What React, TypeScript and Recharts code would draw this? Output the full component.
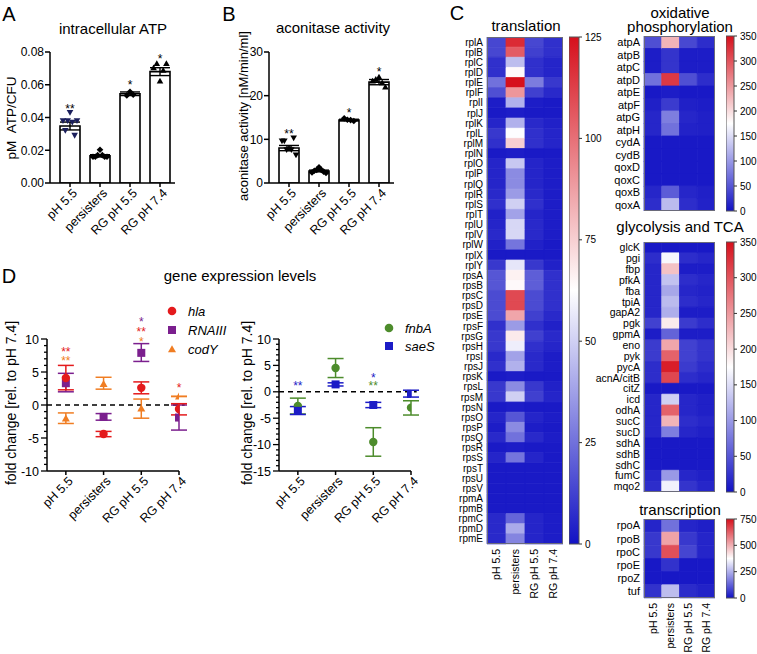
import React from 'react'
import {
  ComposedChart,
  BarChart,
  ScatterChart,
  Bar,
  Scatter,
  XAxis,
  YAxis,
  ErrorBar,
  Cell,
  ReferenceDot,
  ReferenceLine,
} from 'recharts'

const FONT = '"Liberation Sans", Arial, Helvetica, sans-serif'

const groups = ['pH 5.5', 'persisters', 'RG pH 5.5', 'RG pH 7.4']

// A - intracellular ATP (pM ATP/CFU)
const atpMean = [0.0348, 0.0166, 0.0545, 0.068]
const atpSem = [0.0024, 0.0007, 0.0011, 0.0024]
const atpPh55 = [0.038, 0.032, 0.038, 0.043, 0.037, 0.029, 0.038]
const atpPersisters = [0.016, 0.016, 0.017, 0.0203, 0.017, 0.016, 0.016]
const atpRg55 = [0.0535, 0.0557, 0.0539]
const atpRg74 = [0.0705, 0.073, 0.0624, 0.069, 0.073]
const atpStars = ['**', '', '*', '*']
const atpStarY = [0.047, 0, 0.0612, 0.0772]
const atpTicks = [0, 0.02, 0.04, 0.06, 0.08]

// B - aconitase activity (nM/min/ml)
const acoMean = [8.0, 2.75, 14.4, 23.1]
const acoSem = [0.6, 0.2, 0.2, 0.6]
const acoPh55 = [9.6, 9.6, 7.6, 7.8, 7.6, 10.3, 6.4]
const acoPersisters = [2.4, 2.8, 3.0, 3.6, 3.0, 2.6, 2.3]
const acoRg55 = [14.8, 14.5, 14.4, 14.2]
const acoRg74 = [23.4, 23.8, 24.3, 23.0, 22.0]
const acoStars = ['**', '', '*', '*']
const acoStarY = [11.9, 0, 16.7, 26.1]
const acoTicks = [0, 10, 20, 30]

// C - heatmaps
const translationGenes = [
  'rplA', 'rplB', 'rplC', 'rplD', 'rplE', 'rplF', 'rplI', 'rplJ', 'rplK', 'rplL', 'rplM', 'rplN', 'rplO',
  'rplP', 'rplQ', 'rplR', 'rplS', 'rplT', 'rplU', 'rplV', 'rplW', 'rplX', 'rplY', 'rpsA', 'rpsB', 'rpsC',
  'rpsD', 'rpsE', 'rpsF', 'rpsG', 'rpsH', 'rpsI', 'rpsJ', 'rpsK', 'rpsL', 'rpsM', 'rpsN', 'rpsO', 'rpsP',
  'rpsQ', 'rpsR', 'rpsS', 'rpsT', 'rpsU', 'rpsV', 'rpmA', 'rpmB', 'rpmC', 'rpmD', 'rpmE',
]
const translationVals = [
  [14, 118, 14, 8], [14, 105, 12, 8], [8, 45, 8, 5], [8, 64, 8, 5], [25, 125, 28, 10],
  [16, 90, 12, 6], [3, 42, 3, 2], [2, 3, 2, 2], [5, 42, 6, 4], [10, 62, 8, 5],
  [8, 75, 8, 5], [2, 3, 2, 2], [5, 48, 5, 3], [5, 32, 5, 3], [5, 32, 5, 3],
  [6, 36, 6, 3], [8, 50, 8, 3], [4, 38, 5, 3], [5, 52, 6, 3], [6, 52, 6, 3],
  [4, 26, 4, 2], [2, 2, 2, 2], [10, 56, 10, 4], [18, 66, 20, 8], [18, 64, 20, 8],
  [15, 110, 15, 8], [15, 110, 15, 8], [15, 86, 12, 6], [8, 36, 8, 4], [10, 68, 12, 6],
  [10, 58, 8, 5], [6, 38, 6, 3], [8, 42, 6, 3], [2, 3, 2, 2], [10, 32, 10, 4],
  [10, 50, 12, 5], [2, 3, 2, 2], [5, 18, 5, 3], [3, 32, 3, 2], [6, 25, 6, 3],
  [2, 3, 2, 2], [5, 26, 5, 2], [2, 2, 2, 2], [2, 2, 2, 2], [2, 2, 2, 2],
  [2, 2, 2, 2], [2, 2, 2, 2], [6, 22, 5, 3], [6, 40, 5, 3], [6, 30, 5, 3],
]
const translationTicks = [0, 25, 50, 75, 100, 125]

const oxphosGenes = ['atpA', 'atpB', 'atpC', 'atpD', 'atpE', 'atpF', 'atpG', 'atpH', 'cydA', 'cydB', 'qoxD', 'qoxC', 'qoxB', 'qoxA']
const oxphosVals = [
  [45, 230, 40, 20], [8, 25, 8, 8], [8, 25, 8, 8], [70, 320, 45, 20], [5, 8, 5, 5],
  [10, 30, 10, 8], [15, 80, 15, 10], [15, 70, 12, 10], [5, 5, 5, 5], [5, 5, 5, 5],
  [5, 5, 5, 5], [5, 5, 5, 5], [15, 55, 15, 10], [20, 125, 20, 12],
]
const tcaGenes = [
  'glcK', 'pgi', 'fbp', 'pfkA', 'fba', 'tpiA', 'gapA2', 'pgk', 'gpmA', 'eno', 'pyk', 'pycA', 'acnA/citB',
  'citZ', 'icd', 'odhA', 'sucC', 'sucD', 'sdhA', 'sdhB', 'sdhC', 'fumC', 'mqo2',
]
const tcaVals = [
  [5, 5, 5, 5], [20, 170, 20, 15], [15, 220, 8, 8], [15, 130, 20, 15], [15, 110, 15, 12],
  [15, 125, 20, 15], [15, 115, 8, 8], [35, 190, 30, 20], [8, 60, 8, 8], [30, 240, 35, 25],
  [30, 290, 35, 25], [20, 340, 30, 20], [20, 310, 20, 15], [5, 5, 5, 5], [15, 140, 15, 10],
  [15, 290, 15, 10], [15, 230, 20, 15], [15, 80, 15, 10], [5, 5, 5, 5], [5, 5, 5, 5],
  [5, 5, 5, 5], [15, 100, 15, 10], [20, 165, 25, 15],
]
const metabTicks = [0, 50, 100, 150, 200, 250, 300, 350]
const transcriptionGenes = ['rpoA', 'rpoB', 'rpoC', 'rpoE', 'rpoZ', 'tuf']
const transcriptionVals = [
  [30, 150, 30, 20], [60, 520, 60, 30], [60, 650, 80, 30], [10, 50, 10, 10], [10, 10, 10, 10], [50, 270, 40, 25],
]
const transcriptionTicks = [0, 250, 500, 750]

// D - gene expression levels, fold change rel. to pH 7.4
const hlaMean = [4.1, -4.4, 2.6, -0.6]
const hlaLow = [2.3, -4.8, 1.7, -1.5]
const hlaHigh = [6.0, -4.0, 3.5, 0.2]
const rnaMean = [3.3, -1.8, 7.9, -1.9]
const rnaLow = [2.0, -2.3, 6.6, -3.8]
const rnaHigh = [4.8, -1.3, 9.3, 0.0]
const codMean = [-2.0, 3.2, -0.5, 1.3]
const codLow = [-2.8, 2.4, -2.0, 1.3]
const codHigh = [-1.2, 4.2, 0.9, 1.3]
const leftStars = [
  { x: 0, y: 8.5, label: '**', gene: 'hla' },
  { x: 0, y: 7.1, label: '**', gene: 'codY' },
  { x: 2, y: 13, label: '*', gene: 'RNAIII' },
  { x: 2, y: 11.5, label: '**', gene: 'hla' },
  { x: 2, y: 10, label: '*', gene: 'codY' },
  { x: 3, y: 3.0, label: '*', gene: 'hla' },
]
const fnbMean = [-2.7, 4.5, -9.5, -3.0]
const fnbLow = [-4.2, 2.7, -12.2, -4.4]
const fnbHigh = [-1.2, 6.3, -6.8, -1.7]
const saeMean = [-3.6, 1.4, -2.5, -0.4]
const saeLow = [-4.3, 1.1, -3.0, -1.0]
const saeHigh = [-2.8, 1.7, -2.0, 0.3]
const rightStars = [
  { x: 0, y: 1.5, label: '**', gene: 'saeS' },
  { x: 2, y: 3.2, label: '*', gene: 'saeS' },
  { x: 2, y: 1.5, label: '**', gene: 'fnbA' },
]

const geneColor: Record<string, string> = {
  hla: '#e41a1c',
  RNAIII: '#7b1f8e',
  codY: '#f07d22',
  fnbA: '#4d8c2c',
  saeS: '#1c1cc6',
}

const BLUE = [18, 18, 196]
const RED = [214, 16, 28]
function heat(t: number) {
  const c = Math.max(0, Math.min(1, t))
  const mix = (a: number[], b: number[], f: number) =>
    `rgb(${a.map((v, i) => Math.round(v + (b[i] - v) * f)).join(',')})`
  return c < 0.5 ? mix(BLUE, [255, 255, 255], c / 0.5) : mix([255, 255, 255], RED, (c - 0.5) / 0.5)
}

function marker(kind: string, cx: number, cy: number, s: number, fill: string) {
  if (kind === 'down')
    return <polygon points={`${cx - s},${cy - s * 0.8} ${cx + s},${cy - s * 0.8} ${cx},${cy + s * 0.95}`} fill={fill} />
  if (kind === 'up')
    return <polygon points={`${cx - s},${cy + s * 0.8} ${cx + s},${cy + s * 0.8} ${cx},${cy - s * 0.95}`} fill={fill} />
  if (kind === 'diamond')
    return <polygon points={`${cx},${cy - s} ${cx + s},${cy} ${cx},${cy + s} ${cx - s},${cy}`} fill={fill} />
  if (kind === 'square') return <rect x={cx - s} y={cy - s} width={s * 2} height={s * 2} fill={fill} />
  return <circle cx={cx} cy={cy} r={s} fill={fill} />
}

const Txt = ({ x, y, size = 15, children, rot = false, italic = false, anchor = 'center' }: any) => (
  <div
    style={{
      position: 'absolute',
      left: x,
      top: y,
      transform: `translate(${anchor === 'left' ? '0' : '-50%'},-50%)${rot ? ' rotate(-90deg)' : ''}`,
      whiteSpace: 'nowrap',
      fontSize: size,
      fontStyle: italic ? 'italic' : 'normal',
      lineHeight: 1,
      color: '#000',
    }}
  >
    {children}
  </div>
)

const SlantTick = ({ x, y, payload, names }: any) => (
  <text
    transform={`translate(${x + 3},${y}) rotate(-45)`}
    textAnchor="end"
    dy="0.55em"
    fontSize={12.5}
    fontFamily={FONT}
    fill="#000"
  >
    {names ? names[payload.value] : payload.value}
  </text>
)

const starShape = (label: string, color: string) => (p: any) => (
  <text x={p.cx} y={p.cy} dy="0.55em" textAnchor="middle" fontSize={12} fontFamily={FONT} fill={color}>
    {label}
  </text>
)

function BarPanel({ left, means, sems, points, stars, starY, ticks, fmt, kinds, colors }: any) {
  const data = groups.map((g, i) => ({ name: g, mean: means[i], sem: sems[i] }))
  const pts = groups.flatMap((g, i) =>
    points[i].map((y: number, j: number) => ({ name: g, y, j, n: points[i].length, grp: i })),
  )
  return (
    <div style={{ position: 'absolute', left, top: 0 }}>
      <ComposedChart width={180} height={240} data={data} margin={{ top: 52, right: 5, bottom: 7, left: 10 }}>
        <XAxis
          dataKey="name"
          allowDuplicatedCategory={false}
          padding={{ left: 5, right: 0 }}
          interval={0}
          height={50}
          stroke="#000"
          strokeWidth={1.5}
          tickSize={4}
          tick={<SlantTick />}
        />
        <YAxis
          domain={[ticks[0], ticks[ticks.length - 1]]}
          ticks={ticks}
          tickFormatter={fmt}
          allowDataOverflow
          width={40}
          stroke="#000"
          strokeWidth={1.5}
          tickSize={5}
          tickMargin={1}
          tick={{ fill: '#000', fontSize: 12, fontFamily: FONT }}
        />
        <Bar dataKey="mean" fill="#fff" stroke="#000" strokeWidth={1.6} barSize={20} isAnimationActive={false}>
          <ErrorBar dataKey="sem" width={10} stroke="#000" strokeWidth={1.4} />
        </Bar>
        <Scatter
          data={pts}
          dataKey="y"
          isAnimationActive={false}
          shape={(p: any) => {
            const { j, n, grp } = p.payload
            const step = n > 1 ? Math.min(3.2, 14 / (n - 1)) : 0
            return marker(kinds[grp], p.cx + (j - (n - 1) / 2) * step, p.cy, 3.3, colors[grp])
          }}
        />
        {groups.map((g, i) =>
          stars[i] ? (
            <ReferenceDot key={g} x={g} y={starY[i]} ifOverflow="visible" shape={starShape(stars[i], '#000')} />
          ) : null,
        )}
      </ComposedChart>
    </div>
  )
}

const ColTick = ({ x, y, payload }: any) => (
  <text
    transform={`translate(${x},${y}) rotate(-90)`}
    textAnchor="end"
    dy="0.36em"
    fontSize={10.5}
    fontFamily={FONT}
    fill="#000"
  >
    {groups[Math.floor(payload.value)]}
  </text>
)

function Heatmap({ x, y, w, h, labelW, genes, vals, max, cols, fontSize }: any) {
  const rows = genes.map((g: string, i: number) => ({ gene: g, v: vals[i] }))
  return (
    <>
      <div style={{ position: 'absolute', left: x - labelW, top: y }}>
        <BarChart
          width={labelW + w}
          height={h + (cols ? 56 : 0)}
          data={rows}
          layout="vertical"
          barCategoryGap={0}
          margin={{ top: 0, right: 0, bottom: 0, left: 0 }}
        >
          <XAxis
            type="number"
            domain={[0, 4]}
            ticks={[0.5, 1.5, 2.5, 3.5]}
            interval={0}
            hide={!cols}
            height={56}
            axisLine={false}
            tickLine={false}
            tickSize={0}
            tickMargin={5}
            tick={<ColTick />}
          />
          <YAxis
            type="category"
            dataKey="gene"
            width={labelW}
            interval={0}
            axisLine={false}
            tickLine={false}
            tickSize={0}
            tickMargin={4}
            tick={{ fill: '#000', fontSize, fontFamily: FONT }}
          />
          {[0, 1, 2, 3].map((k) => (
            <Bar key={k} dataKey={() => 1} stackId="h" isAnimationActive={false}>
              {rows.map((r: any) => (
                <Cell key={r.gene} fill={heat(r.v[k] / max)} stroke={heat(r.v[k] / max)} strokeWidth={0.8} />
              ))}
            </Bar>
          ))}
        </BarChart>
      </div>
      <div
        style={{
          position: 'absolute',
          left: x,
          top: y,
          width: w,
          height: h,
          border: '1px solid #6a6a7a',
          boxSizing: 'border-box',
        }}
      />
    </>
  )
}

function ColorBar({ x, y, w, h, max, ticks, id }: any) {
  return (
    <div style={{ position: 'absolute', left: x, top: y - 6 }}>
      <BarChart
        width={w + 30}
        height={h + 12}
        data={[{ name: 'scale', v: max }]}
        barCategoryGap={0}
        margin={{ top: 6, right: 0, bottom: 6, left: 0 }}
      >
        <defs>
          <linearGradient id={id} x1="0" y1="1" x2="0" y2="0">
            <stop offset="0" stopColor={heat(0)} />
            <stop offset="0.5" stopColor="#ffffff" />
            <stop offset="1" stopColor={heat(1)} />
          </linearGradient>
        </defs>
        <XAxis dataKey="name" hide />
        <YAxis
          orientation="right"
          domain={[0, max]}
          ticks={ticks}
          interval={0}
          width={30}
          axisLine={false}
          tickSize={3}
          tickMargin={3}
          tickLine={{ stroke: '#333' }}
          tick={{ fill: '#000', fontSize: 10, fontFamily: FONT }}
        />
        <Bar dataKey="v" fill={`url(#${id})`} stroke="#555" strokeWidth={1} isAnimationActive={false} />
      </BarChart>
    </div>
  )
}

const MinorTick = ({ x, y, payload }: any) => {
  const major = payload.value % 5 === 0
  return (
    <g>
      <line x1={x} x2={x - (major ? 6 : 3)} y1={y} y2={y} stroke="#000" strokeWidth={1.3} />
      {major && (
        <text x={x - 8} y={y} dy="0.36em" textAnchor="end" fontSize={12.5} fontFamily={FONT} fill="#000">
          {payload.value}
        </text>
      )}
    </g>
  )
}

function GenePanel({ left, series, domain, stars }: any) {
  const yt: number[] = []
  for (let v = domain[0]; v <= domain[1]; v++) yt.push(v)
  return (
    <div style={{ position: 'absolute', left, top: 300 }}>
      <ScatterChart width={200} height={240} margin={{ top: 39, right: 21, bottom: 9, left: 0 }}>
        <XAxis
          type="number"
          dataKey="x"
          domain={[-0.5, 3]}
          ticks={[0, 1, 2, 3]}
          interval={0}
          allowDataOverflow
          height={60}
          stroke="#000"
          strokeWidth={1.5}
          tickSize={4}
          tick={<SlantTick names={groups} />}
        />
        <YAxis
          type="number"
          domain={domain}
          ticks={yt}
          interval={0}
          allowDataOverflow
          width={47}
          stroke="#000"
          strokeWidth={1.5}
          tickLine={false}
          tickSize={0}
          tickMargin={0}
          tick={<MinorTick />}
        />
        <ReferenceLine
          segment={[{ x: -0.5, y: 0 }, { x: 3.15, y: 0 }]}
          ifOverflow="visible"
          stroke="#000"
          strokeWidth={1.6}
          strokeDasharray="5 4"
        />
        {series.map((s: any) => (
          <Scatter
            key={s.name}
            data={s.mean.map((m: number, i: number) => ({ x: i, y: m, err: [m - s.low[i], s.high[i] - m] }))}
            dataKey="y"
            isAnimationActive={false}
            shape={(p: any) => marker(s.kind, p.cx, p.cy, s.kind === 'circle' ? 4.2 : 4, geneColor[s.name])}
          >
            <ErrorBar dataKey="err" direction="y" width={8} stroke={geneColor[s.name]} strokeWidth={1.5} />
          </Scatter>
        ))}
        {stars.map((st: any, i: number) => (
          <ReferenceDot
            key={i}
            x={st.x}
            y={st.y}
            ifOverflow="visible"
            shape={starShape(st.label, geneColor[st.gene])}
          />
        ))}
      </ScatterChart>
    </div>
  )
}

const LegendItem = ({ x, y, name, kind }: any) => (
  <>
    <svg style={{ position: 'absolute', left: x - 6, top: y - 6 }} width={12} height={12}>
      {marker(kind, 6, 6, kind === 'circle' ? 4.3 : 4, geneColor[name])}
    </svg>
    <Txt x={x + 16} y={y} size={13} italic anchor="left">
      {name}
    </Txt>
  </>
)

export default function App() {
  return (
    <div
      style={{
        position: 'absolute',
        left: 0,
        top: 0,
        width: 757,
        height: 654,
        background: '#fff',
        fontFamily: FONT,
        overflow: 'hidden',
      }}
    >
      {/* A */}
      <Txt x={9} y={14} size={20}>A</Txt>
      <Txt x={113} y={28} size={15}>intracellular ATP</Txt>
      <Txt x={12} y={118} size={13.5} rot>pM&nbsp;&nbsp;ATP/CFU</Txt>
      <BarPanel
        left={0}
        means={atpMean}
        sems={atpSem}
        points={[atpPh55, atpPersisters, atpRg55, atpRg74]}
        stars={atpStars}
        starY={atpStarY}
        ticks={atpTicks}
        fmt={(v: number) => v.toFixed(2)}
        kinds={['down', 'diamond', 'diamond', 'up']}
        colors={['#1b1f5c', '#000', '#000', '#000']}
      />

      {/* B */}
      <Txt x={229} y={14} size={20}>B</Txt>
      <Txt x={333} y={27} size={15}>aconitase activity</Txt>
      <Txt x={243} y={116} size={13} rot>aconitase activity [nM/min/ml]</Txt>
      <BarPanel
        left={219}
        means={acoMean}
        sems={acoSem}
        points={[acoPh55, acoPersisters, acoRg55, acoRg74]}
        stars={acoStars}
        starY={acoStarY}
        ticks={acoTicks}
        fmt={(v: number) => String(v)}
        kinds={['down', 'diamond', 'diamond', 'up']}
        colors={['#000', '#000', '#000', '#000']}
      />

      {/* C */}
      <Txt x={457} y={13} size={20}>C</Txt>
      <Txt x={526} y={25} size={15}>translation</Txt>
      <Heatmap x={487} y={37} w={76} h={507} labelW={45} genes={translationGenes} vals={translationVals} max={125} cols fontSize={10} />
      <ColorBar x={569} y={37} w={10} h={507} max={125} ticks={translationTicks} id="gTrans" />

      <Txt x={680} y={12} size={15}>oxidative</Txt>
      <Txt x={680} y={26} size={15}>phosphorylation</Txt>
      <Heatmap x={644} y={36} w={71} h={175} labelW={50} genes={oxphosGenes} vals={oxphosVals} max={350} fontSize={11} />
      <ColorBar x={726} y={36} w={8} h={175} max={350} ticks={metabTicks} id="gOx" />

      <Txt x={680} y={226} size={15}>glycolysis and TCA</Txt>
      <Heatmap x={644} y={242} w={71} h={250} labelW={50} genes={tcaGenes} vals={tcaVals} max={350} fontSize={10.5} />
      <ColorBar x={726} y={242} w={8} h={250} max={350} ticks={metabTicks} id="gTca" />

      <Txt x={680} y={509} size={15}>transcription</Txt>
      <Heatmap x={644} y={519} w={71} h={79} labelW={50} genes={transcriptionGenes} vals={transcriptionVals} max={750} cols fontSize={11} />
      <ColorBar x={726} y={519} w={8} h={79} max={750} ticks={transcriptionTicks} id="gTx" />

      {/* D */}
      <Txt x={9} y={276} size={20}>D</Txt>
      <Txt x={240} y={275} size={15}>gene expression levels</Txt>
      <Txt x={11} y={403} size={14} rot>fold change [rel. to pH 7.4]</Txt>
      <Txt x={247} y={403} size={14} rot>fold change [rel. to pH 7.4]</Txt>
      <GenePanel
        left={0}
        domain={[-10, 10]}
        stars={leftStars}
        series={[
          { name: 'codY', kind: 'up', mean: codMean, low: codLow, high: codHigh },
          { name: 'RNAIII', kind: 'square', mean: rnaMean, low: rnaLow, high: rnaHigh },
          { name: 'hla', kind: 'circle', mean: hlaMean, low: hlaLow, high: hlaHigh },
        ]}
      />
      <LegendItem x={172} y={311} name="hla" kind="circle" />
      <LegendItem x={172} y={330} name="RNAIII" kind="square" />
      <LegendItem x={172} y={349} name="codY" kind="up" />

      <GenePanel
        left={232}
        domain={[-15, 10]}
        stars={rightStars}
        series={[
          { name: 'fnbA', kind: 'circle', mean: fnbMean, low: fnbLow, high: fnbHigh },
          { name: 'saeS', kind: 'square', mean: saeMean, low: saeLow, high: saeHigh },
        ]}
      />
      <LegendItem x={389} y={328} name="fnbA" kind="circle" />
      <LegendItem x={389} y={346} name="saeS" kind="square" />
    </div>
  )
}
